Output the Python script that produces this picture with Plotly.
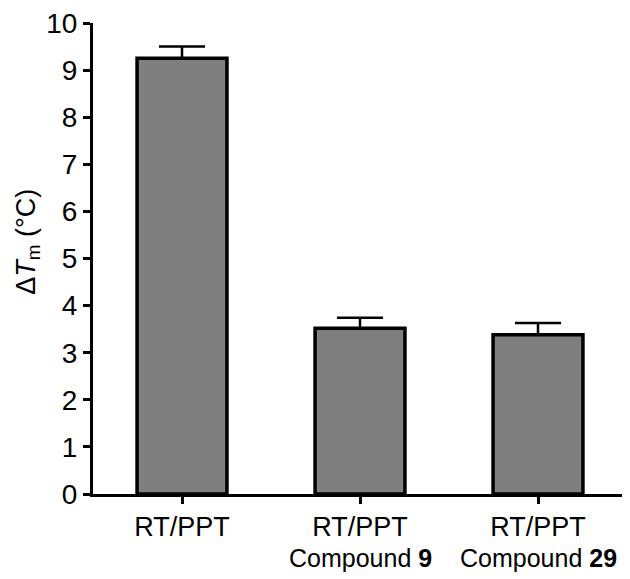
import plotly.graph_objects as go

tick_labels = ["RT/PPT", "RT/PPT", "RT/PPT"]
sub_labels = ["", "Compound <b>9</b>", "Compound <b>29</b>"]
values = [9.25, 3.52, 3.38]
errors = [0.25, 0.22, 0.25]
y_ticks = list(range(0, 11))

x = [0, 1, 2]
fig = go.Figure()
fig.add_trace(go.Bar(
    x=x, y=values, width=0.505,
    marker=dict(color="#7f7f7f", line=dict(color="black", width=3.5)),
    error_y=dict(type="data", array=errors, symmetric=False, arrayminus=[0, 0, 0],
                 color="black", thickness=2.5, width=23),
))
for xi, s in zip(x, sub_labels):
    if s:
        fig.add_annotation(x=xi, xref="x", y=0, yref="paper", yshift=-64,
                           text=s, showarrow=False, yanchor="middle",
                           font=dict(size=25))
fig.add_annotation(x=-0.122, xref="paper", y=0.535, yref="paper",
                   text="Δ<i>T</i><sub>m</sub> (°C)", textangle=-90, showarrow=False,
                   xanchor="center", yanchor="middle", font=dict(size=27))
fig.update_layout(
    width=622, height=571,
    margin=dict(l=85, r=3, t=15, b=85),
    plot_bgcolor="white", paper_bgcolor="white",
    font=dict(family="Liberation Sans, Arial, sans-serif", color="black", size=27),
    showlegend=False,
    xaxis=dict(range=[-0.5, 2.5], tickvals=x, ticktext=tick_labels, automargin=False,
               showline=True, linecolor="black", linewidth=3,
               ticks="outside", ticklen=7, tickwidth=3, tickcolor="black",
               showgrid=False, zeroline=False, tickfont=dict(size=27),
               ticklabeloverflow="allow"),
    yaxis=dict(range=[0, 10], tickvals=y_ticks, automargin=False,
               showline=True, linecolor="black", linewidth=3,
               ticks="outside", ticklen=7, tickwidth=3, tickcolor="black",
               showgrid=False, zeroline=False, tickfont=dict(size=28),
               ticklabeloverflow="allow"),
)
fig.write_html("out.html")
